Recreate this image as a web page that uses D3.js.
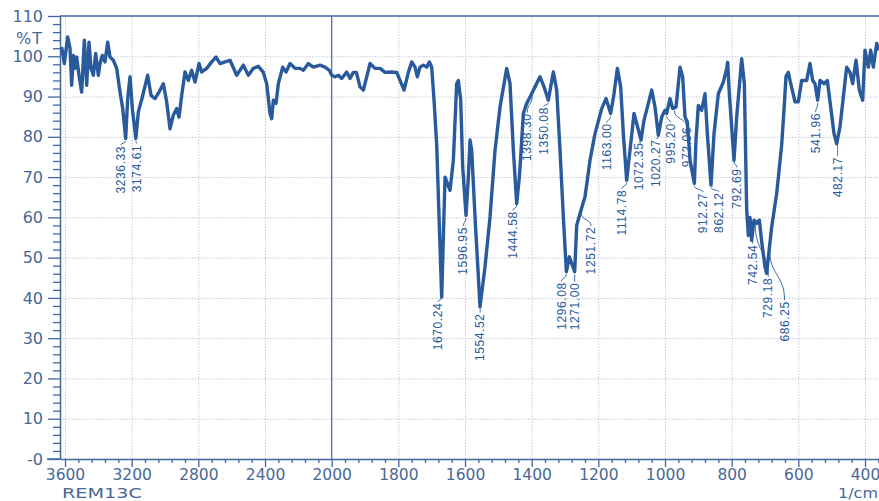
<!DOCTYPE html>
<html>
<head>
<meta charset="utf-8">
<script src="https://cdn.jsdelivr.net/npm/d3@7"></script>
<style>
    body { margin: 0; background: #fff; }
    svg { display: block; }
</style>
</head>
<body>
<script>
// spectrum (1/cm, %T)
const wavenumber = [
    3620, 3604, 3584, 3570, 3560, 3550, 3540, 3530, 3516, 3500, 3484, 3470, 3456, 3444, 3430, 3416,
    3400, 3390, 3376, 3360, 3344, 3330, 3310, 3290, 3270, 3254, 3236, 3224, 3210, 3196, 3175, 3160,
    3136, 3104, 3084, 3060, 3036, 3010, 2990, 2970, 2950, 2930, 2916, 2900, 2880, 2860, 2840, 2820,
    2796, 2780, 2750, 2720, 2694, 2670, 2640, 2610, 2570, 2530, 2500, 2470, 2440, 2410, 2390, 2370,
    2360, 2350, 2334, 2320, 2294, 2274, 2250, 2220, 2190, 2170, 2140, 2110, 2070, 2040, 2014, 2000,
    1990, 1980, 1970, 1955, 1945, 1935, 1926, 1915, 1905, 1895, 1885, 1870, 1855, 1840, 1820, 1805,
    1795, 1783, 1770, 1760, 1750, 1743, 1735, 1725, 1715, 1707, 1700, 1693, 1685, 1670, 1660, 1645,
    1635, 1625, 1620, 1613, 1607, 1597, 1590, 1585, 1580, 1570, 1555, 1540, 1525, 1510, 1495, 1475,
    1465, 1455, 1445, 1437, 1433, 1425, 1415, 1405, 1390, 1375, 1363, 1350, 1343, 1335, 1325, 1315,
    1305, 1296, 1287, 1271, 1265, 1252, 1240, 1225, 1210, 1190, 1177, 1163, 1153, 1143, 1133, 1125,
    1115, 1105, 1093, 1085, 1072, 1063, 1050, 1040, 1030, 1020, 1010, 1000, 995, 985, 977, 967,
    955, 947, 940, 933, 925, 912, 907, 900, 890, 880, 873, 862, 853, 840, 825, 815,
    812, 807, 793, 785, 770, 762, 755, 750, 745, 740, 733, 725, 717, 710, 700, 695,
    690, 680, 665, 650, 642, 637, 630, 625, 610, 600, 590, 575, 565, 557, 550, 542,
    535, 523, 513, 503, 493, 485, 475, 465, 455, 445, 437, 427, 417, 407, 400, 390,
    383, 375, 365, 358
]
const transmittance = [
    102.3, 98.2, 104.8, 102, 92.8, 100.2, 97, 99.8, 95.3, 91.1, 104, 92.8, 103.5, 97, 95.3, 100.7,
    95.3, 98.2, 100.2, 98.6, 103.5, 99.8, 99, 97, 91.1, 87.1, 79.6, 89.5, 94.9, 87, 79.6, 86.2,
    89.9, 95.3, 90.3, 89.5, 91.1, 93.2, 88.7, 82, 85.4, 87, 84.9, 90.3, 96.1, 94, 96.5, 93.6,
    98.2, 96.1, 97, 98.6, 99.8, 98.2, 98.6, 99, 95.3, 97.8, 95.3, 97, 97.5, 96, 93.2, 85.8,
    84.5, 89.1, 88.3, 93.2, 97.3, 96.1, 98.2, 97, 97, 96.5, 98.2, 97.3, 97.8, 97.3, 96.5, 95.3,
    94.9, 95.3, 94.5, 96.1, 94.5, 96, 96, 92.4, 91.6, 94.9, 98.2, 97, 97, 96, 96.1, 96,
    94, 91.6, 96, 98.6, 97.3, 94.9, 97.3, 97.8, 97.3, 98.6, 97.3, 89.1, 78, 40.2, 70, 66.7,
    74.2, 93.2, 94, 89.1, 72.5, 60.5, 70, 79.2, 76.7, 60.1, 37.8, 47.7, 60.1, 76.7, 87.4, 97,
    93.2, 76.7, 63.4, 70, 75, 85.8, 88.3, 89.9, 92.4, 94.9, 92.4, 89.1, 92.4, 96.1, 91.6, 76.7,
    60.1, 46.5, 50.2, 46.5, 58, 61.8, 65.1, 74.2, 80.8, 87, 89.5, 85.8, 90.7, 97, 92.4, 80.8,
    69.2, 76.7, 85.8, 83.3, 79.2, 84.1, 88.3, 91.6, 87.4, 80.4, 84.9, 86.6, 85.8, 89.5, 87, 87.4,
    97.3, 94.9, 84.9, 83.7, 74.2, 68.4, 79.2, 87.8, 86.6, 90.7, 80.8, 68, 80.8, 90.7, 93.6, 97,
    98.5, 90.7, 74.2, 84.9, 99.4, 93.2, 62, 55.5, 60, 54.3, 59.3, 58.5, 59.3, 54, 47.7, 46.1,
    50, 57.6, 65.9, 78, 88, 95, 96, 94, 88.7, 88.7, 94, 94, 98.2, 94, 93.2, 89.1,
    94, 93.2, 94, 87.4, 80.8, 78.3, 82.5, 89.9, 97.3, 96, 93.2, 99, 91.6, 89.1, 101.5, 97.3,
    101.5, 97.3, 103.2, 101.5
]

// peak picks printed on the chart
const peakWavenumbers = [
    3236.33, 3174.61, 1670.24, 1596.95, 1554.52, 1444.58, 1398.30, 1350.08, 1296.08, 1271.00,
    1251.72, 1163.00, 1114.78, 1072.35, 1020.27, 995.20, 972.06, 912.27, 862.12, 792.69,
    742.54, 729.18, 686.25, 541.96, 482.17
]

const xMajorTicks = [3600, 3200, 2800, 2400, 2000, 1800, 1600, 1400, 1200, 1000, 800, 600, 400]
const yTicks = [0, 10, 20, 30, 40, 50, 60, 70, 80, 90, 100, 110]
const yTickLabels = ['-0', '10', '20', '30', '40', '50', '60', '70', '80', '90', '100', '110']
const sampleName = 'REM13C'
const xUnit = '1/cm'
const yUnit = '%T'

// layout only: label nudges [dx, dy] to dodge each other like the instrument print does
const labelNudge = [
    [-5, 0], [1, -1], [-3.5, 0], [-3, 4], [0, 0], [-4, 1], [-5, 13], [-5, -1], [-5, 3], [0, 3],
    [10, 9], [-4, 2], [-5, 2], [-2, -5], [-2, -3], [4, 2], [12, 11], [9, 2], [8, 0], [3, 2],
    [2, 8], [13, 48], [15, 47], [-2, 5], [0, 10]
]

const width = 879
const height = 501
const plotLeft = 60, plotRight = 879, plotTop = 16, plotBottom = 459

const lineColor = '#285a9c'
const axisColor = '#3f67a3'
const textColor = '#4a6896'
const gridColor = '#c3cad6'
const labelFont = '16px'

// the x axis is compressed 2x above 2000 1/cm, like the instrument plot
const x = d3.scaleLinear()
    .domain([3630, 2000, 358])
    .range([plotLeft, 331.7, plotRight])
const y = d3.scaleLinear()
    .domain([0, 110])
    .range([plotBottom, plotTop])

const svg = d3.select('body').append('svg')
    .attr('width', width)
    .attr('height', height)
    .style('font-family', '"DejaVu Sans", sans-serif')

// grid
const xGrid = svg.append('g')
    .attr('transform', `translate(0,${plotBottom})`)
    .call(d3.axisBottom(x).tickValues(xMajorTicks.filter(d => d !== 2000)).tickSize(-(plotBottom - plotTop)).tickFormat(''))
const yGrid = svg.append('g')
    .attr('transform', `translate(${plotLeft},0)`)
    .call(d3.axisLeft(y).tickValues(yTicks.filter(d => d > 0 && d < 110)).tickSize(-(plotRight - plotLeft)).tickFormat(''))
for (const g of [xGrid, yGrid]) {
    g.select('.domain').remove()
    g.selectAll('line')
        .attr('stroke', gridColor)
        .attr('stroke-dasharray', '1.5,1.5')
}

// solid split line at 2000 and top frame
svg.append('line')
    .attr('x1', x(2000)).attr('x2', x(2000))
    .attr('y1', plotTop).attr('y2', plotBottom)
    .attr('stroke', axisColor)
    .attr('stroke-width', 1.2)
svg.append('line')
    .attr('x1', plotLeft).attr('x2', plotRight)
    .attr('y1', y(110)).attr('y2', y(110))
    .attr('stroke', axisColor)
    .attr('stroke-width', 1.5)

// minor ticks
const xMinor = [...d3.range(2000, 3601, 80), ...d3.range(360, 2000, 40)]
    .filter(d => !xMajorTicks.includes(d))
const yMinor = d3.range(0, 111, 2).filter(d => d % 10 !== 0)

const xMinorAxis = svg.append('g')
    .attr('transform', `translate(0,${plotBottom})`)
    .call(d3.axisBottom(x).tickValues(xMinor).tickSize(4).tickFormat(''))
const yMinorAxis = svg.append('g')
    .attr('transform', `translate(${plotLeft},0)`)
    .call(d3.axisLeft(y).tickValues(yMinor).tickSize(7).tickFormat(''))

// major axes
const xAxis = svg.append('g')
    .attr('transform', `translate(0,${plotBottom})`)
    .call(d3.axisBottom(x).tickValues(xMajorTicks).tickSize(8).tickSizeOuter(0).tickPadding(1.5)
        .tickFormat(d3.format('d')))
const yAxis = svg.append('g')
    .attr('transform', `translate(${plotLeft},0)`)
    .call(d3.axisLeft(y).tickValues(yTicks).tickSize(12).tickSizeOuter(0).tickPadding(5)
        .tickFormat((d, i) => yTickLabels[i]))

for (const g of [xMinorAxis, yMinorAxis]) g.select('.domain').remove()
for (const g of [xAxis, yAxis, xMinorAxis, yMinorAxis]) {
    g.selectAll('line').attr('stroke', axisColor).attr('stroke-width', 1.3)
    g.select('.domain').attr('stroke', axisColor).attr('stroke-width', 1.5)
    g.selectAll('text')
        .attr('fill', textColor)
        .style('font-size', labelFont)
        .style('font-family', '"DejaVu Sans", sans-serif')
}
xAxis.selectAll('text').style('font-size', '15.5px')
// bottom axis line also runs under the y tick marks
svg.append('line')
    .attr('x1', 47).attr('x2', plotLeft)
    .attr('y1', plotBottom).attr('y2', plotBottom)
    .attr('stroke', axisColor)
    .attr('stroke-width', 1.5)

svg.append('text')
    .attr('x', 43).attr('y', 38)
    .attr('dy', '0.35em')
    .attr('text-anchor', 'end')
    .attr('fill', textColor)
    .style('font-size', labelFont)
    .style('letter-spacing', '1px')
    .text(yUnit)
svg.append('text')
    .attr('x', 62).attr('y', 497.5)
    .attr('fill', textColor)
    .attr('textLength', 80)
    .attr('lengthAdjust', 'spacingAndGlyphs')
    .style('font-size', '14.5px')
    .text(sampleName)
svg.append('text')
    .attr('x', 838).attr('y', 497.5)
    .attr('fill', textColor)
    .attr('textLength', 40)
    .attr('lengthAdjust', 'spacingAndGlyphs')
    .style('font-size', '14.5px')
    .text(xUnit)

// spectrum
const points = wavenumber.map((w, i) => [w, transmittance[i]])
svg.append('path')
    .datum(points)
    .attr('fill', 'none')
    .attr('stroke', lineColor)
    .attr('stroke-width', 3.4)
    .attr('stroke-linejoin', 'round')
    .attr('d', d3.line().x(d => x(d[0])).y(d => y(d[1])))

// %T on the curve at a given wavenumber (linear between read points)
const curveAt = (w) => {
    const i = wavenumber.findIndex(v => v <= w)
    if (i <= 0) return transmittance[Math.max(i, 0)]
    const w0 = wavenumber[i - 1], w1 = wavenumber[i]
    const t = (w0 - w) / (w0 - w1)
    return transmittance[i - 1] + t * (transmittance[i] - transmittance[i - 1])
}

const peaks = svg.append('g')
    .selectAll('g')
    .data(peakWavenumbers.map((w, i) => {
        const px = x(w)
        const py = y(curveAt(w))
        return {w, px, py, lx: px + labelNudge[i][0], ly: py + 8 + labelNudge[i][1]}
    }))
    .join('g')

peaks.append('path')
    .attr('fill', 'none')
    .attr('stroke', lineColor)
    .attr('stroke-width', 0.9)
    .attr('d', d => {
        const mid = (d.py + 3 + d.ly) / 2
        return `M ${d.px} ${d.py + 3} C ${d.px} ${mid}, ${d.lx} ${mid}, ${d.lx} ${d.ly - 1}`
    })

peaks.append('text')
    .attr('transform', d => `translate(${d.lx},${d.ly}) rotate(-90)`)
    .attr('text-anchor', 'end')
    .attr('dy', '0.35em')
    .attr('fill', lineColor)
    .style('font-family', '"Liberation Sans", Arial, sans-serif')
    .style('font-size', '12px')
    .style('letter-spacing', '0.6px')
    .text(d => d.w.toFixed(2))
</script>
</body>
</html>
